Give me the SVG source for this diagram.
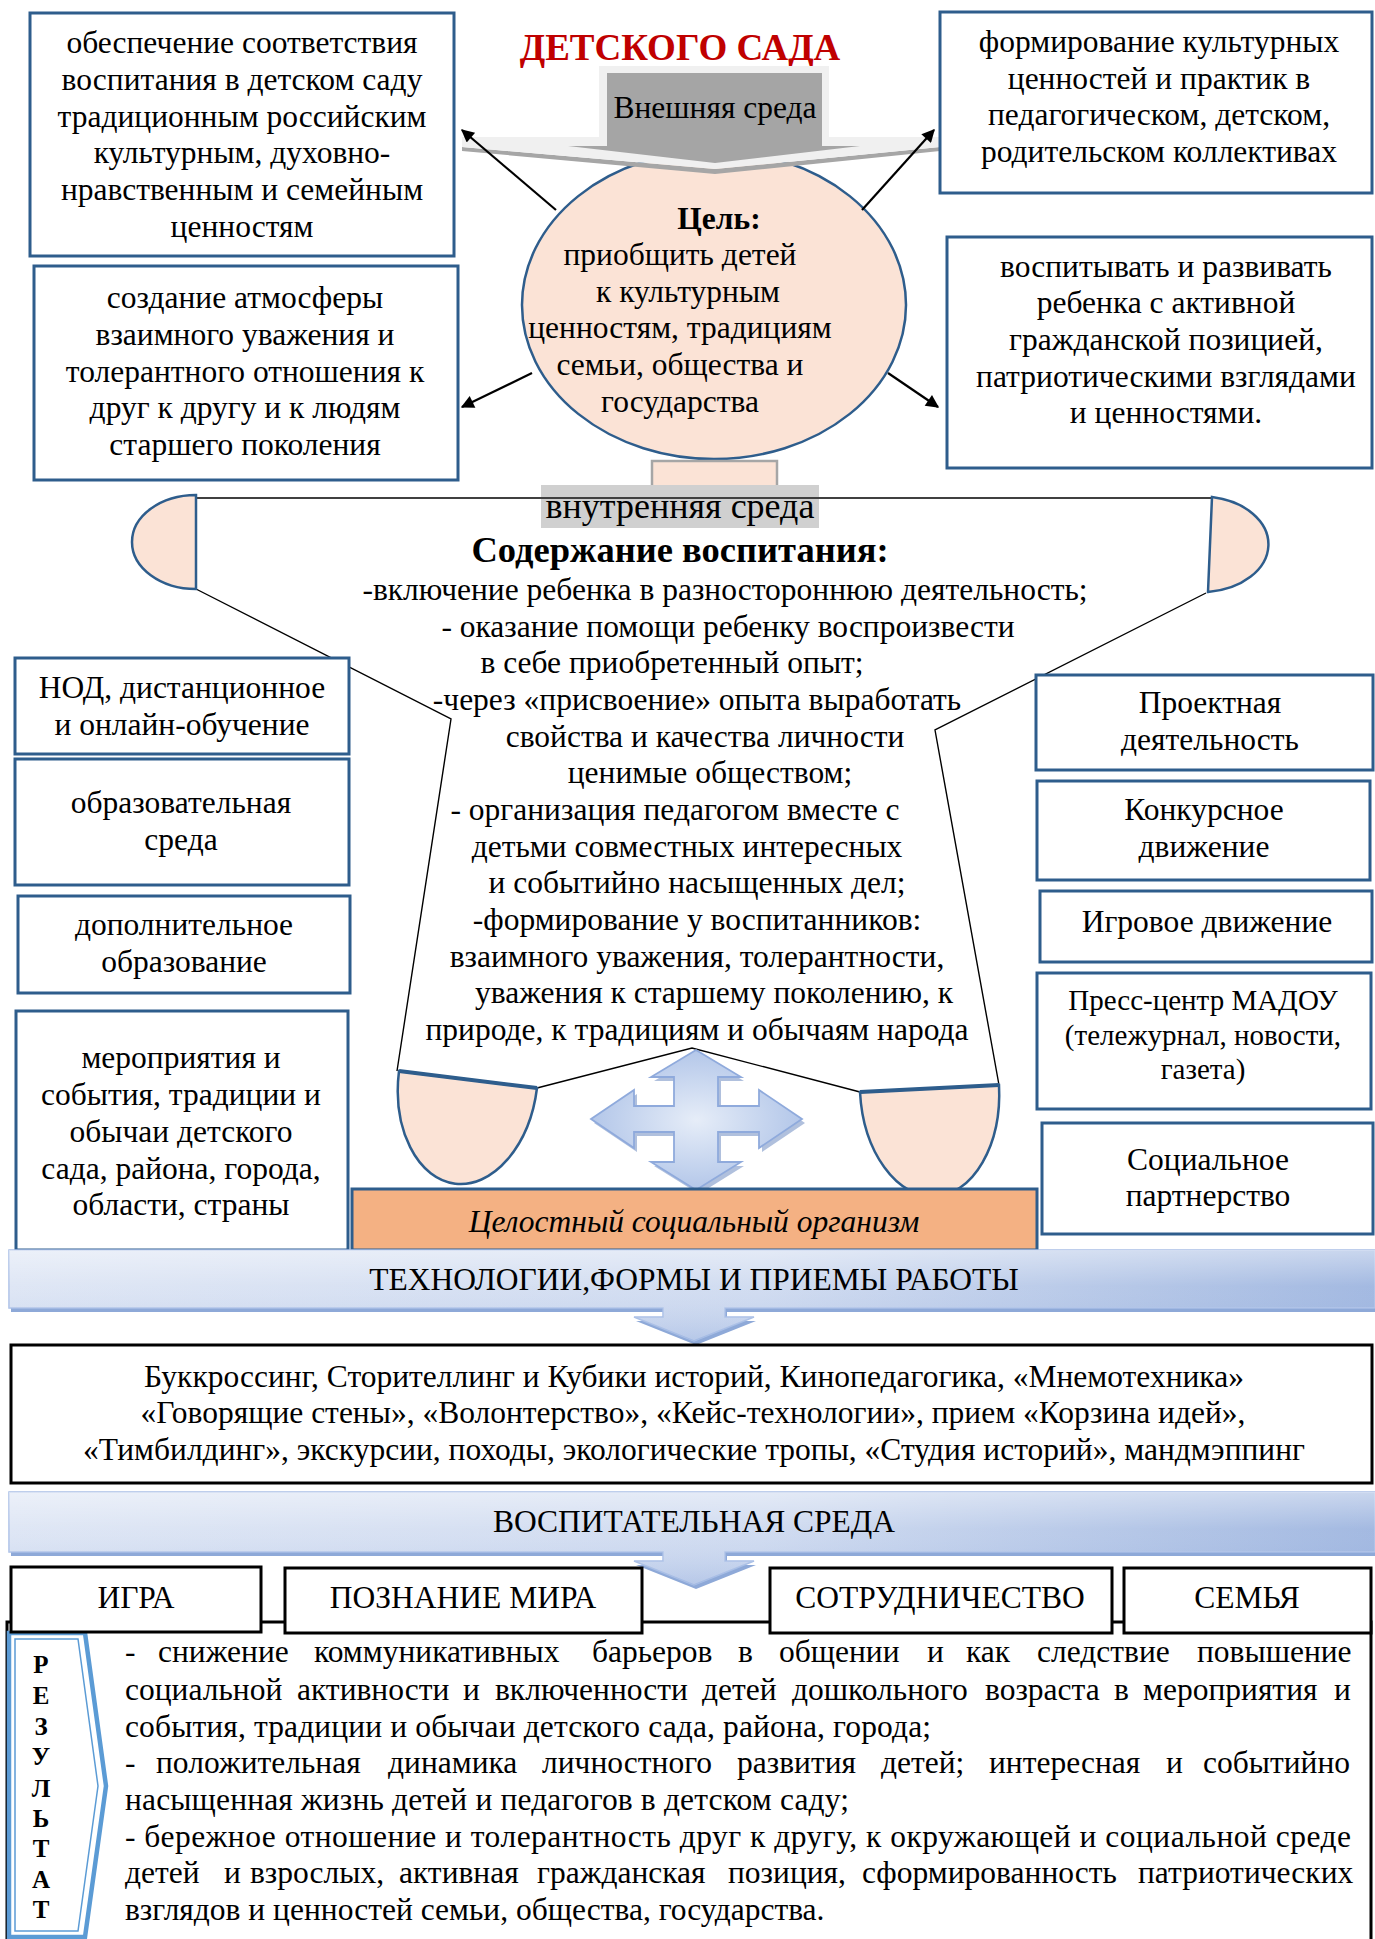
<svg xmlns="http://www.w3.org/2000/svg" width="1375" height="1939" viewBox="0 0 1375 1939">
<style>
.t{font-family:"Liberation Serif","Times New Roman",serif;font-size:31.5px;fill:#000;text-anchor:middle}
.tl{font-family:"Liberation Serif","Times New Roman",serif;font-size:31.5px;fill:#000}
.b{font-weight:bold}
.box{fill:#fff;stroke:#2E5D8C;stroke-width:3}
.bbox{fill:#fff;stroke:#000;stroke-width:3}
.peach{fill:#FBE3D6;stroke:#2E5D8C;stroke-width:2.5}
.conn{stroke:#000;stroke-width:1.4;fill:none}
.arr{stroke:#000;stroke-width:2.2;fill:none;marker-end:url(#ah)}
.rl{font-family:"Liberation Serif","Times New Roman",serif;font-size:25px;font-weight:bold;fill:#000;text-anchor:middle}
</style>
<defs>
<marker id="ah" viewBox="0 0 10 10" refX="9" refY="5" markerWidth="17" markerHeight="13" markerUnits="userSpaceOnUse" orient="auto"><path d="M0,0 L10,5 L0,10 z" fill="#000"/></marker>
<linearGradient id="bg" x1="0" y1="0" x2="1" y2="0"><stop offset="0" stop-color="#D9E2F3"/><stop offset="0.55" stop-color="#C9D6EE"/><stop offset="1" stop-color="#93ADDC"/></linearGradient>
<linearGradient id="bv" x1="0" y1="0" x2="0" y2="1"><stop offset="0" stop-color="#fff" stop-opacity="0.5"/><stop offset="0.4" stop-color="#fff" stop-opacity="0.15"/><stop offset="1" stop-color="#8FAADC" stop-opacity="0.35"/></linearGradient>
<radialGradient id="qg" cx="0.5" cy="0.5" r="0.6"><stop offset="0" stop-color="#E6EDF8"/><stop offset="1" stop-color="#A9BFE6"/></radialGradient>
</defs>

<g id="connectors">
<line x1="196" y1="498" x2="1212" y2="498" stroke="#404040" stroke-width="2.2"/>
<polyline class="conn" points="196,589 451,719 397,1071"/>
<polyline class="conn" points="1206,593 935,730 999,1085"/>
<polyline class="conn" points="537,1088 692,1048 860,1092"/>
</g>

<g id="title"><text class="t b" x="680" y="60" style="font-size:37px;fill:#C00000">ДЕТСКОГО САДА</text></g>

<g id="goal">
<ellipse cx="714" cy="305" rx="192" ry="154" class="peach"/>
<text class="t b" x="719" y="229">Цель:</text>
<text class="t" x="680" y="265">приобщить детей</text>
<text class="t" x="688" y="302">к культурным</text>
<text class="t" x="680" y="338">ценностям, традициям</text>
<text class="t" x="680" y="375">семьи, общества и</text>
<text class="t" x="680" y="412">государства</text>
</g>

<g id="external">
<polygon points="462,151 715,174 940,151 940,147 715,169 462,147" fill="#A6A6A6"/>
<polygon points="599,66 829,66 829,137 940,137 940,147 715,169 462,147 462,137 599,137" fill="#F0F0F0"/>
<polygon points="607,73 822,73 822,146 860,146 715,163 568,146 607,146" fill="#A5A5A5"/>
<text class="t" x="715" y="118">Внешняя среда</text>
</g>

<g id="pedestal"><rect x="652" y="461" width="125" height="33" fill="#FBE3D6" stroke="#A6A6A6" stroke-width="2.5"/></g>

<g id="inner">
<rect x="541" y="485" width="278" height="43" fill="#D0D0D0"/>
<line x1="196" y1="498" x2="1212" y2="498" stroke="#404040" stroke-width="2.2"/>
<text class="t" x="680" y="518" style="font-size:36px">внутренняя среда</text>
</g>

<g id="half-left"><path class="peach" d="M196,495 A64,47 0 0 0 196,589 Z"/></g>
<g id="half-right"><path class="peach" d="M1212,497 A68,48 0 0 1 1208,592 Z"/></g>

<g id="content">
<text class="t b" x="680" y="562" style="font-size:36.5px">Содержание воспитания:</text>
<text class="t" x="725" y="600">-включение ребенка в разностороннюю деятельность;</text>
<text class="t" x="728" y="637">- оказание помощи ребенку воспроизвести</text>
<text class="t" x="672" y="673">в себе приобретенный опыт;</text>
<text class="t" x="697" y="710">-через «присвоение» опыта выработать</text>
<text class="t" x="705" y="747">свойства и качества личности</text>
<text class="t" x="710" y="783">ценимые обществом;</text>
<text class="t" x="675" y="820">- организация педагогом вместе с</text>
<text class="t" x="687" y="857">детьми совместных интересных</text>
<text class="t" x="697" y="893">и событийно насыщенных дел;</text>
<text class="t" x="697" y="930">-формирование у воспитанников:</text>
<text class="t" x="697" y="967">взаимного уважения, толерантности,</text>
<text class="t" x="714" y="1003">уважения к старшему поколению, к</text>
<text class="t" x="697" y="1040">природе, к традициям и обычаям народа</text>
</g>

<g id="cup-left"><path class="peach" d="M399,1071 L537,1088 A69.5,105 7 0 1 399,1071 Z"/><line x1="399" y1="1071" x2="537" y2="1088" stroke="#2E5D8C" stroke-width="4"/></g>
<g id="cup-right"><path class="peach" d="M860,1092 L999,1085 A69.5,108 -3 0 1 860,1092 Z"/><line x1="860" y1="1092" x2="999" y2="1085" stroke="#2E5D8C" stroke-width="4"/></g>

<g id="quad-arrow">
<polygon transform="translate(3,4)" fill="#8EA5CF" opacity="0.7" points="696,1050 741,1077 718,1077 718,1106 759,1106 759,1090 802,1119 759,1148 759,1132 718,1132 718,1162 741,1162 696,1190 651,1162 674,1162 674,1132 634,1132 634,1148 591,1119 634,1090 634,1106 674,1106 674,1077 651,1077"/>
<polygon fill="url(#qg)" stroke="#8FAADC" stroke-width="1.8" points="696,1050 741,1077 718,1077 718,1106 759,1106 759,1090 802,1119 759,1148 759,1132 718,1132 718,1162 741,1162 696,1190 651,1162 674,1162 674,1132 634,1132 634,1148 591,1119 634,1090 634,1106 674,1106 674,1077 651,1077"/>
</g>

<g id="organism">
<rect x="352" y="1189" width="685" height="61" fill="#F4B183" stroke="#2E5D8C" stroke-width="3"/>
<text class="t" x="694" y="1232" style="font-style:italic">Целостный социальный организм</text>
</g>

<g id="box-a"><rect class="box" x="30" y="13" width="424" height="243"/>
<text class="t" x="242" y="53">обеспечение соответствия</text>
<text class="t" x="242" y="90">воспитания в детском саду</text>
<text class="t" x="242" y="127">традиционным российским</text>
<text class="t" x="242" y="163">культурным, духовно-</text>
<text class="t" x="242" y="200">нравственным и семейным</text>
<text class="t" x="242" y="237">ценностям</text></g>

<g id="box-b"><rect class="box" x="34" y="266" width="424" height="214"/>
<text class="t" x="245" y="308">создание атмосферы</text>
<text class="t" x="245" y="345">взаимного уважения и</text>
<text class="t" x="245" y="382">толерантного отношения к</text>
<text class="t" x="245" y="418">друг к другу и к людям</text>
<text class="t" x="245" y="455">старшего поколения</text></g>

<g id="box-c"><rect class="box" x="940" y="12" width="432" height="181"/>
<text class="t" x="1159" y="52">формирование культурных</text>
<text class="t" x="1159" y="89">ценностей и практик в</text>
<text class="t" x="1159" y="125">педагогическом, детском,</text>
<text class="t" x="1159" y="162">родительском коллективах</text></g>

<g id="box-d"><rect class="box" x="947" y="237" width="425" height="231"/>
<text class="t" x="1166" y="277">воспитывать и развивать</text>
<text class="t" x="1166" y="313">ребенка с активной</text>
<text class="t" x="1166" y="350">гражданской позицией,</text>
<text class="t" x="1166" y="387">патриотическими взглядами</text>
<text class="t" x="1166" y="423">и ценностями.</text></g>

<g id="goal-arrows">
<line class="arr" x1="556" y1="210" x2="462" y2="130"/>
<line class="arr" x1="532" y1="373" x2="462" y2="407"/>
<line class="arr" x1="862" y1="210" x2="934" y2="130"/>
<line class="arr" x1="888" y1="373" x2="938" y2="407"/>
</g>

<g id="box-e"><rect class="box" x="15" y="658" width="334" height="96"/>
<text class="t" x="182" y="698">НОД, дистанционное</text>
<text class="t" x="182" y="735">и онлайн-обучение</text></g>
<g id="box-f"><rect class="box" x="15" y="759" width="334" height="126"/>
<text class="t" x="181" y="813">образовательная</text>
<text class="t" x="181" y="850">среда</text></g>
<g id="box-g"><rect class="box" x="18" y="896" width="332" height="97"/>
<text class="t" x="184" y="935">дополнительное</text>
<text class="t" x="184" y="972">образование</text></g>
<g id="box-h"><rect class="box" x="16" y="1011" width="332" height="239"/>
<text class="t" x="181" y="1068">мероприятия и</text>
<text class="t" x="181" y="1105">события, традиции и</text>
<text class="t" x="181" y="1142">обычаи детского</text>
<text class="t" x="181" y="1179">сада, района, города,</text>
<text class="t" x="181" y="1215">области, страны</text></g>

<g id="box-i"><rect class="box" x="1036" y="675" width="337" height="95"/>
<text class="t" x="1210" y="713">Проектная</text>
<text class="t" x="1210" y="750">деятельность</text></g>
<g id="box-j"><rect class="box" x="1037" y="781" width="333" height="99"/>
<text class="t" x="1204" y="820">Конкурсное</text>
<text class="t" x="1204" y="857">движение</text></g>
<g id="box-k"><rect class="box" x="1040" y="891" width="332" height="71"/>
<text class="t" x="1207" y="932">Игровое движение</text></g>
<g id="box-l"><rect class="box" x="1037" y="973" width="334" height="136"/>
<text class="t" x="1203" y="1010" style="font-size:29px">Пресс-центр МАДОУ</text>
<text class="t" x="1203" y="1045" style="font-size:29px">(тележурнал, новости,</text>
<text class="t" x="1203" y="1079" style="font-size:29px">газета)</text></g>
<g id="box-m"><rect class="box" x="1042" y="1123" width="331" height="111"/>
<text class="t" x="1208" y="1170">Социальное</text>
<text class="t" x="1208" y="1206">партнерство</text></g>

<g id="banner-tech">
<polygon transform="translate(2,4)" fill="#8EA9D8" points="9,1250 1375,1250 1375,1308 725,1308 725,1317 754,1317 694,1341 634,1317 663,1317 663,1308 9,1308"/>
<polygon fill="url(#bg)" stroke="#A9BFE6" stroke-width="1.5" points="9,1250 1375,1250 1375,1308 725,1308 725,1317 754,1317 694,1341 634,1317 663,1317 663,1308 9,1308"/>
<polygon fill="url(#bv)" points="9,1250 1375,1250 1375,1308 725,1308 725,1317 754,1317 694,1341 634,1317 663,1317 663,1308 9,1308"/>
<text class="t" x="694" y="1290">ТЕХНОЛОГИИ,ФОРМЫ И ПРИЕМЫ РАБОТЫ</text>
</g>

<g id="box-tech"><rect class="bbox" x="11" y="1345" width="1361" height="138"/>
<text class="t" x="694" y="1387">Буккроссинг, Сторителлинг и Кубики историй, Кинопедагогика, «Мнемотехника»</text>
<text class="t" x="693" y="1423">«Говорящие стены», «Волонтерство», «Кейс-технологии», прием «Корзина идей»,</text>
<text class="t" x="694" y="1460">«Тимбилдинг», экскурсии, походы, экологические тропы, «Студия историй», мандмэппинг</text></g>

<g id="result">
<rect class="bbox" x="7" y="1622" width="1364" height="330"/>
<polygon points="9,1633 85,1633 106,1786 85,1937 9,1937" fill="#fff" stroke="#5B9BD5" stroke-width="4.5"/>
<polygon points="15,1639 78,1639 98,1786 78,1931 15,1931" fill="none" stroke="#5B9BD5" stroke-width="1.5"/>
<text class="rl" x="41" y="1673">Р</text>
<text class="rl" x="41" y="1704">Е</text>
<text class="rl" x="41" y="1735">З</text>
<text class="rl" x="41" y="1765">У</text>
<text class="rl" x="41" y="1797">Л</text>
<text class="rl" x="41" y="1827">Ь</text>
<text class="rl" x="41" y="1857">Т</text>
<text class="rl" x="41" y="1888">А</text>
<text class="rl" x="41" y="1918">Т</text>
<text class="tl" y="1662"><tspan x="125">-</tspan><tspan x="158">снижение</tspan><tspan x="314">коммуникативных</tspan><tspan x="592">барьеров</tspan><tspan x="738">в</tspan><tspan x="779">общении</tspan><tspan x="927">и</tspan><tspan x="966">как</tspan><tspan x="1037">следствие</tspan><tspan x="1197">повышение</tspan></text>
<text class="tl" y="1700"><tspan x="125">социальной</tspan><tspan x="297">активности</tspan><tspan x="463">и</tspan><tspan x="495">включенности</tspan><tspan x="702">детей</tspan><tspan x="792">дошкольного</tspan><tspan x="985">возраста</tspan><tspan x="1114">в</tspan><tspan x="1143">мероприятия</tspan><tspan x="1334">и</tspan></text>
<text class="tl" x="125" y="1737" textLength="806" lengthAdjust="spacing">события, традиции и обычаи детского сада, района, города;</text>
<text class="tl" y="1773"><tspan x="125">-</tspan><tspan x="156">положительная</tspan><tspan x="388">динамика</tspan><tspan x="542">личностного</tspan><tspan x="737">развития</tspan><tspan x="881">детей;</tspan><tspan x="989">интересная</tspan><tspan x="1166">и</tspan><tspan x="1203">событийно</tspan></text>
<text class="tl" x="125" y="1810" textLength="724" lengthAdjust="spacing">насыщенная жизнь детей и педагогов в детском саду;</text>
<text class="tl" x="125" y="1847" textLength="1226" lengthAdjust="spacing">- бережное отношение и толерантность друг к другу, к окружающей и социальной среде</text>
<text class="tl" y="1883"><tspan x="125">детей</tspan><tspan x="224">и</tspan><tspan x="250">взрослых,</tspan><tspan x="399">активная</tspan><tspan x="537">гражданская</tspan><tspan x="728">позиция,</tspan><tspan x="862">сформированность</tspan><tspan x="1138">патриотических</tspan></text>
<text class="tl" x="125" y="1920">взглядов и ценностей семьи, общества, государства.</text>
</g>

<g id="banner-env">
<polygon transform="translate(2,4)" fill="#8EA9D8" points="9,1492 1375,1492 1375,1552 725,1552 725,1561 754,1561 694,1585 634,1561 663,1561 663,1552 9,1552"/>
<polygon fill="url(#bg)" stroke="#A9BFE6" stroke-width="1.5" points="9,1492 1375,1492 1375,1552 725,1552 725,1561 754,1561 694,1585 634,1561 663,1561 663,1552 9,1552"/>
<polygon fill="url(#bv)" points="9,1492 1375,1492 1375,1552 725,1552 725,1561 754,1561 694,1585 634,1561 663,1561 663,1552 9,1552"/>
<text class="t" x="694" y="1532">ВОСПИТАТЕЛЬНАЯ СРЕДА</text>
</g>

<g id="cat-game"><rect class="bbox" x="11" y="1567" width="250" height="65"/><text class="t" x="136" y="1608">ИГРА</text></g>
<g id="cat-world"><rect class="bbox" x="285" y="1568" width="357" height="65"/><text class="t" x="463" y="1608">ПОЗНАНИЕ МИРА</text></g>
<g id="cat-coop"><rect class="bbox" x="770" y="1568" width="342" height="65"/><text class="t" x="940" y="1608">СОТРУДНИЧЕСТВО</text></g>
<g id="cat-family"><rect class="bbox" x="1124" y="1568" width="247" height="65"/><text class="t" x="1247" y="1608">СЕМЬЯ</text></g>
</svg>
